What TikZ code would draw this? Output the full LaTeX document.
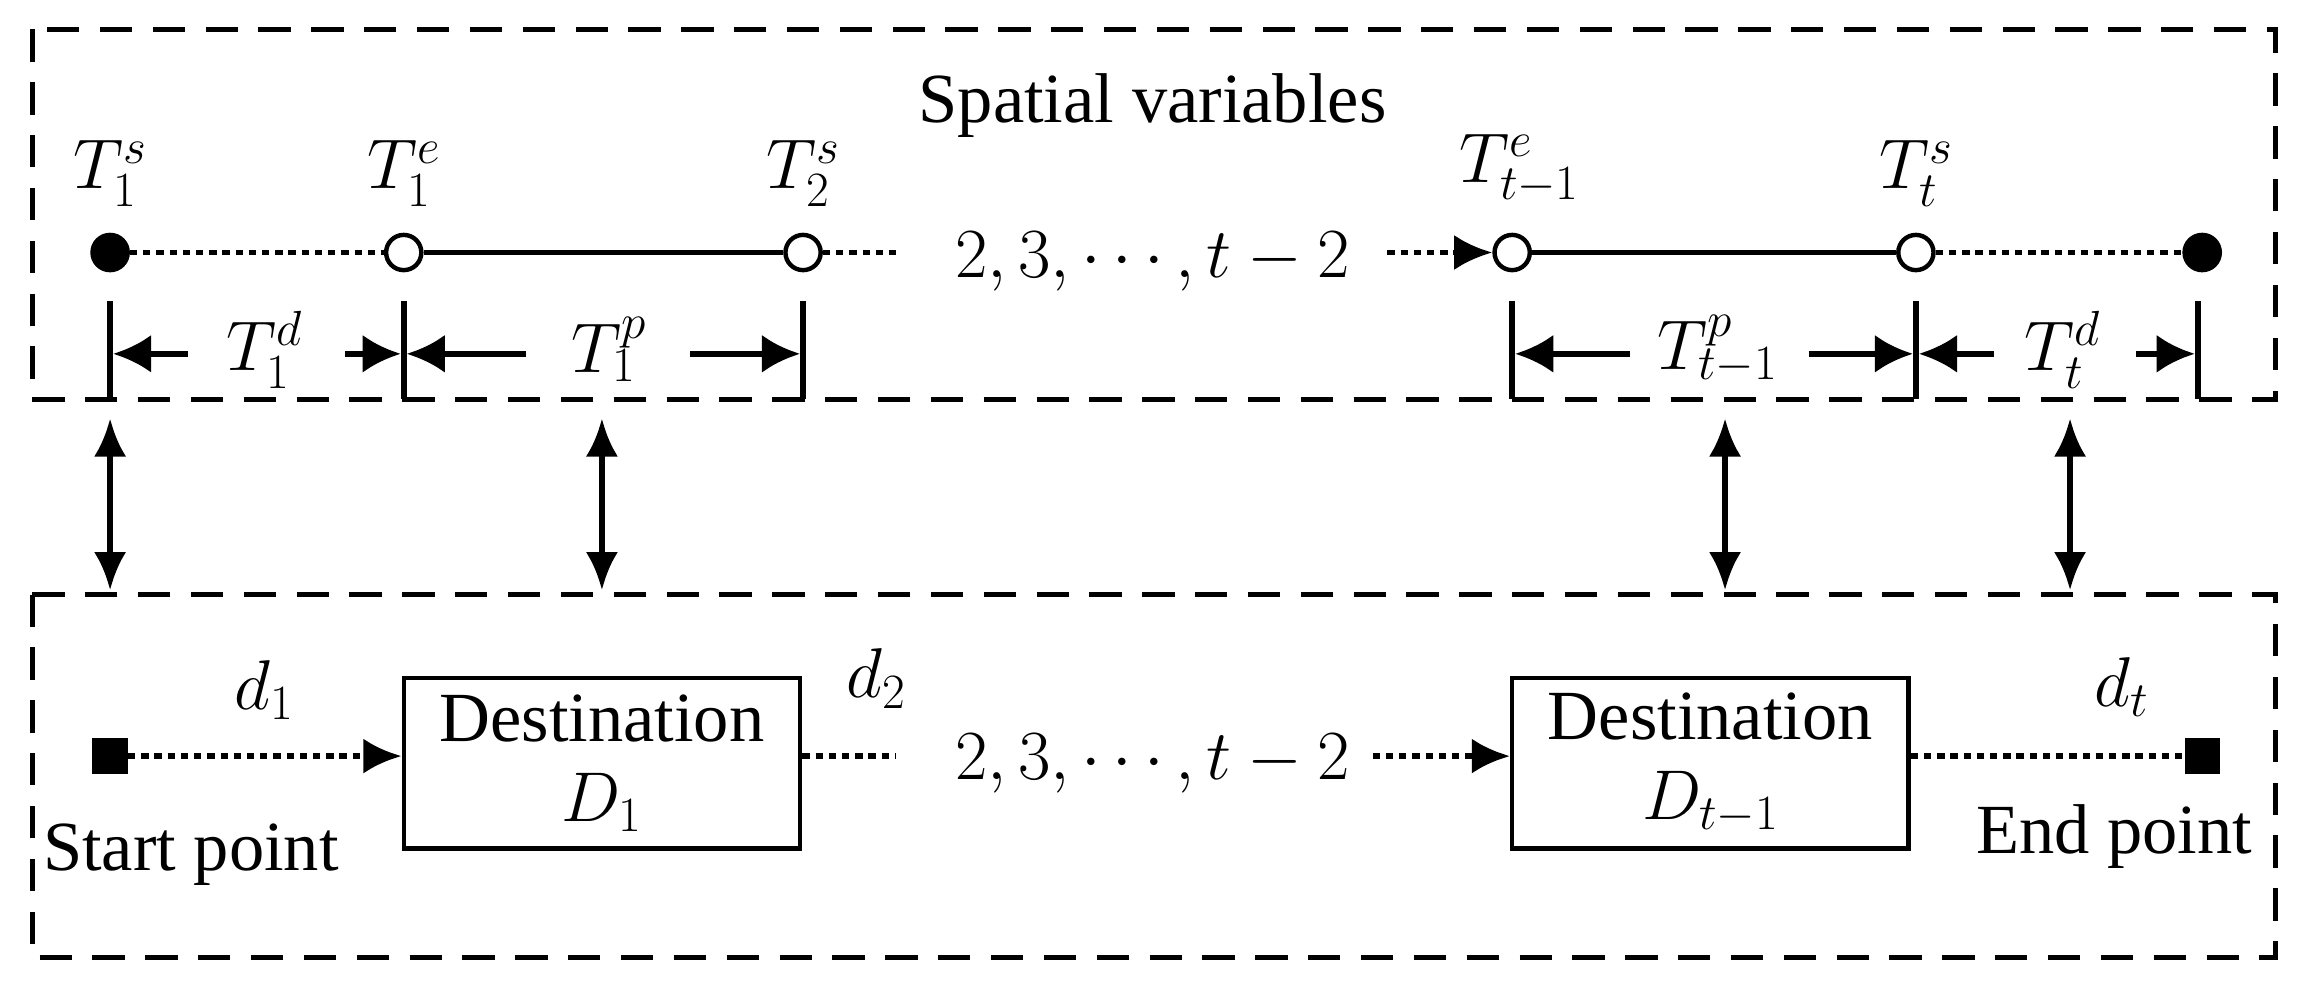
\documentclass[tikz,border=0pt]{standalone}
\usepackage{fix-cm}
\usepackage{fontspec}
\setmainfont{Liberation Serif}
\usetikzlibrary{arrows.meta}
\begin{document}
\begin{tikzpicture}[x=1pt,y=-1pt,
  box/.style={draw,line width=3.5pt,dash pattern=on 22pt off 14pt},
  txt/.style={font=\fontsize{48}{54}\selectfont,inner sep=0},
  dot/.style={line width=4pt,dash pattern=on 5pt off 4pt},
  sol/.style={line width=4pt},
  fp/.style={circle,fill,draw,line width=3pt,minimum size=24pt,inner sep=0},
  op/.style={circle,fill=white,draw,line width=3pt,minimum size=24pt,inner sep=0},
  sq/.style={fill,minimum size=24pt,inner sep=0},
  ar/.style={-{Latex[length=26pt,width=26pt]},line width=4pt},
  dar/.style={{Latex[length=26pt,width=22pt]}-{Latex[length=26pt,width=22pt]},line width=4pt},
  dbox/.style={draw,line width=3pt,minimum width=270pt,minimum height=116pt}]
\useasboundingbox (0,0) rectangle (1568,672);
\draw[box] (22,20) rectangle (1550,272);
\draw[box] (22,405) rectangle (1550,652);
\node[txt] (title) at (785,72) {Spatial variables};
% points
\node[fp] (p1) at (75,172) {};
\node[op] (p2) at (275,172) {};
\node[op] (p3) at (547,172) {};
\node[op] (p4) at (1030,172) {};
\node[op] (p5) at (1305,172) {};
\node[fp] (p6) at (1500,172) {};
\node[txt] (dots1) at (785,178) {$2,3,\cdots,t-2$};
\coordinate (c1) at (610,172);
\coordinate (c2) at (945,172);
\draw[dot] (p1) -- (p2);
\draw[sol] (p2) -- (p3);
\draw[dot] (p3) -- (c1);
\draw[dot,-{Latex[length=26pt,width=24pt]}] (c2) -- (p4);
\draw[sol] (p4) -- (p5);
\draw[dot] (p5) -- (p6);
\node[txt] at (75,118) {$T_1^s$};
\node[txt] at (275,118) {$T_1^e$};
\node[txt] at (547,118) {$T_2^s$};
\node[txt] at (1035,115) {$T_{t-1}^e$};
\node[txt] at (1305,118) {$T_t^s$};
% ticks
\foreach \x in {75,275,547,1030,1305,1497} \draw[sol] (\x,205) -- (\x,272);
% dimension labels
\node[txt] (td1) at (180,238) {$T_1^d$};
\node[txt] (tp1) at (415,238) {$T_1^p$};
\node[txt] (tpt) at (1170,238) {$T_{t-1}^p$};
\node[txt] (tdt) at (1405,238) {$T_t^d$};
\draw[ar] (128,241) -- (77,241); \draw[ar] (235,241) -- (273,241);
\draw[ar] (358,241) -- (277,241); \draw[ar] (470,241) -- (545,241);
\draw[ar] (1110,241) -- (1032,241); \draw[ar] (1232,241) -- (1303,241);
\draw[ar] (1358,241) -- (1307,241); \draw[ar] (1455,241) -- (1495,241);
% vertical double arrows
\foreach \x in {75,410,1175,1410} \draw[dar] (\x,285) -- (\x,402);
% bottom
\node[sq] (s) at (75,515) {};
\node[sq] (e) at (1500,515) {};
\node[dbox,align=center,txt] (d1) at (410,520) {Destination\\$D_1$};
\node[dbox,align=center,txt] (d2) at (1165,520) {Destination\\$D_{t-1}$};
\node[txt] (dots2) at (785,520) {$2,3,\cdots,t-2$};
\coordinate (b1) at (610,515);
\coordinate (b2) at (935,515);
\draw[dot,-{Latex[length=26pt,width=24pt]}] (s) -- (d1.west|-s);
\draw[dot] (d1.east|-s) -- (b1);
\draw[dot,-{Latex[length=26pt,width=24pt]}] (b2) -- (d2.west|-s);
\draw[dot] (d2.east|-e) -- (e);
\node[txt] at (180,470) {$d_1$};
\node[txt] at (597,462) {$d_2$};
\node[txt] at (1445,468) {$d_t$};
\node[txt] at (130,582) {Start point};
\node[txt] at (1440,570) {End point};
\end{tikzpicture}
\end{document}
